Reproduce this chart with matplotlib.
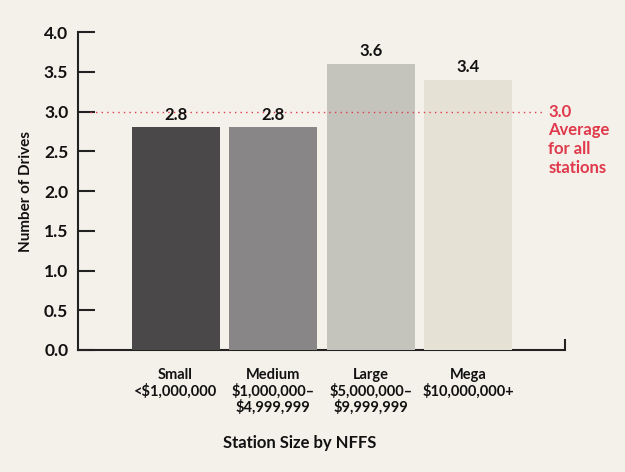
import matplotlib
matplotlib.use('Agg')
import matplotlib.pyplot as plt
import numpy as np

categories = ['Small\n<$1,000,000', 'Medium\n$1,000,000–\n$4,999,999',
              'Large\n$5,000,000–\n$9,999,999', 'Mega\n$10,000,000+']
drives = [2.8, 2.8, 3.6, 3.4]
value_labels = ['2.8', '2.8', '3.6', '3.4']
average = 3.0
yticks = [0.0, 0.5, 1.0, 1.5, 2.0, 2.5, 3.0, 3.5, 4.0]

bar_colors = ['#4a4849', '#888687', '#c5c4bc', '#e5e2d5']
bg = '#f4f1ea'
red = '#e0394c'
ink = '#111111'

plt.rcParams['font.family'] = ['Lato', 'DejaVu Sans']
plt.rcParams['font.weight'] = 'bold'

fig = plt.figure(figsize=(6.25, 4.72), dpi=100, facecolor=bg)
ax = fig.add_axes([0.1248, 0.2585, 0.7792, 0.6735])
ax.set_facecolor(bg)

x = np.arange(len(categories))
ax.bar(x, drives, width=0.9, color=bar_colors, zorder=3)
for xi, v, lab in zip(x, drives, value_labels):
    ax.text(xi, v + 0.06, lab, ha='center', va='bottom', fontsize=12,
            fontweight='bold', color=ink, zorder=5)

# average line (drawn over the bars)
ax.plot([-0.88, 3.76], [average, average], linestyle=(0, (1, 3)),
        color=red, linewidth=1.0, zorder=4)
ax.text(3.82, average, '3.0', ha='left', va='center', fontsize=12,
        fontweight='bold', color=red)
ax.text(3.82, average - 0.13, 'Average\nfor all\nstations', ha='left', va='top',
        fontsize=12, fontweight='bold', color=red, linespacing=1.22)

ax.set_xlim(-1.0, 3.99)
ax.set_ylim(0, 4.0)
ax.set_yticks(yticks)
ax.set_yticklabels([f'{t:.1f}' for t in yticks], fontsize=12.5, fontweight='bold')
ax.tick_params(axis='y', direction='in', length=12, width=1.5, color='#222222',
               pad=7, labelcolor=ink)
ax.set_xticks(x)
ax.set_xticklabels(categories, fontsize=10.5, fontweight='bold', color=ink,
                   linespacing=1.1)
ax.tick_params(axis='x', length=0, pad=13)
ax.set_xticks([3.99], minor=True)
ax.tick_params(axis='x', which='minor', direction='in', length=8, width=1.5,
               color='#222222')

for s in ['top', 'right']:
    ax.spines[s].set_visible(False)
for s in ['left', 'bottom']:
    ax.spines[s].set_linewidth(1.5)
    ax.spines[s].set_color('#222222')

ax.set_ylabel('Number of Drives', fontsize=11, fontweight='bold', color=ink,
              labelpad=8)
fig.text(300 / 625, 1 - 443 / 472, 'Station Size by NFFS', ha='center',
         va='center', fontsize=12, fontweight='bold', color=ink)

fig.savefig('out.png', dpi=100, facecolor=bg)
